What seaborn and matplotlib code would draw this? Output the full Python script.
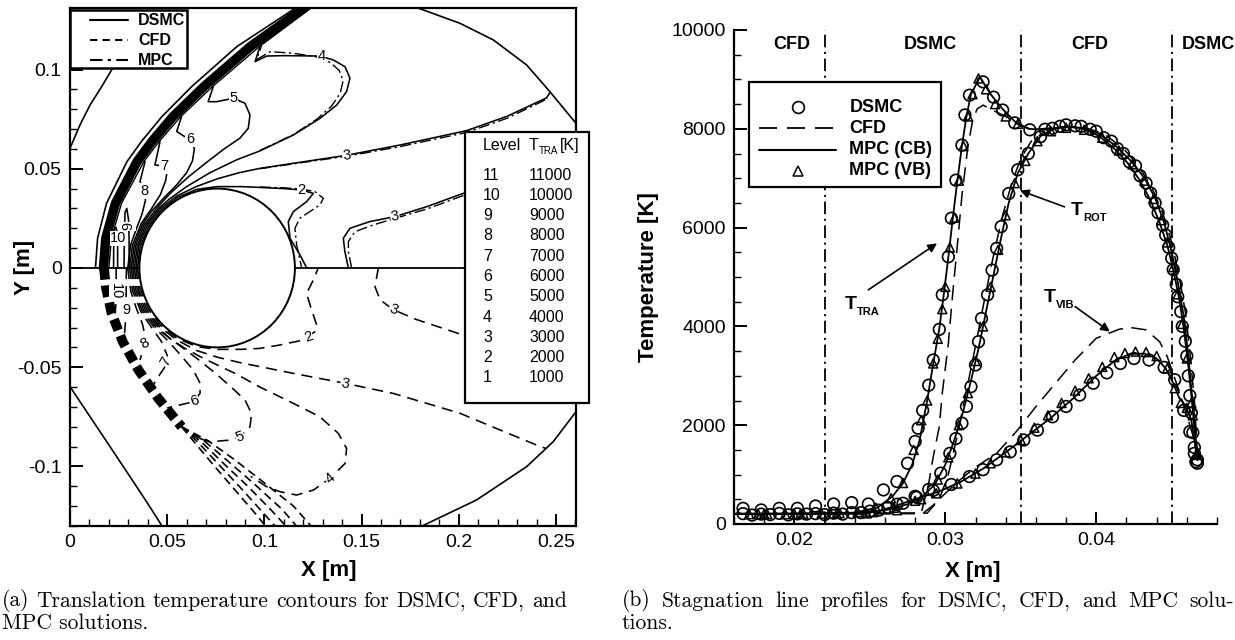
import matplotlib
matplotlib.use("Agg")
import pandas as pd
import matplotlib.pyplot as plt
from matplotlib.patches import Circle, Rectangle
from matplotlib.ticker import MultipleLocator, FuncFormatter
import seaborn as sns

# ---------------------------------------------------------------------------
# (a) translational temperature contours around the cylinder
# ---------------------------------------------------------------------------
cyl_center = (0.0757, 0.0)
cyl_radius = 0.040

symmetry_left = [(0.0, 0.0), (0.0357, 0.0)]
symmetry_right = [(0.1157, 0.0), (0.2603, 0.0)]

boundary_upper_left = [(0.0, 0.0603), (0.0051, 0.0720), (0.0103, 0.0821), (0.0163, 0.0914),
                       (0.0214, 0.0998), (0.0300, 0.1120)]
boundary_upper_right = [(0.1790, 0.1310), (0.2006, 0.1233), (0.2178, 0.1149), (0.2349, 0.1023),
                        (0.2469, 0.0888), (0.2603, 0.0729)]
boundary_lower_left = [(0.0, -0.0598), (0.0103, -0.0749), (0.0206, -0.0900), (0.0309, -0.1052),
                       (0.0394, -0.1178), (0.0480, -0.1310)]
boundary_lower_right = [(0.1790, -0.1310), (0.2091, -0.1169), (0.2349, -0.1001), (0.2486, -0.0875),
                        (0.2603, -0.0724)]

# shock layer (DSMC / MPC, upper half)
shock_y_up = [0.0, 0.015, 0.0326, 0.0536, 0.0637, 0.0763, 0.0914, 0.1116, 0.131]
shock_outer_x_up = [0.0131, 0.0142, 0.0188, 0.0293, 0.0367, 0.0473, 0.0626, 0.0859, 0.1160]
shock_core_x_up = [0.0172, 0.0184, 0.0234, 0.0345, 0.0421, 0.0530, 0.0689, 0.0928, 0.1205]
shock_inner_x_up = [0.0200, 0.0213, 0.0265, 0.0380, 0.0458, 0.0570, 0.0733, 0.0975, 0.1240]

# shock layer (CFD, lower half)
shock_y_low = [0.0, -0.010, -0.0228, -0.0371, -0.0514, -0.0657, -0.0800]
shock_core_x_low = [0.0175, 0.0185, 0.0214, 0.0271, 0.0352, 0.0454, 0.0574]
cfd_shock_fan1 = [(0.0574, -0.0800), (0.0650, -0.0890), (0.0740, -0.0995), (0.0850, -0.1120),
                  (0.0960, -0.1245), (0.1005, -0.1300)]
cfd_shock_fan2 = [(0.0574, -0.0800), (0.0665, -0.0885), (0.0765, -0.0990), (0.0880, -0.1110),
                  (0.0995, -0.1235), (0.1055, -0.1300)]
cfd_shock_fan3 = [(0.0574, -0.0800), (0.0680, -0.0880), (0.0790, -0.0985), (0.0915, -0.1100),
                  (0.1040, -0.1225), (0.1110, -0.1300)]
cfd_shock_fan4 = [(0.0574, -0.0800), (0.0695, -0.0875), (0.0815, -0.0975), (0.0950, -0.1090),
                  (0.1090, -0.1215), (0.1165, -0.1300)]
cfd_shock_fan5 = [(0.0574, -0.0800), (0.0710, -0.0870), (0.0845, -0.0965), (0.0990, -0.1075),
                  (0.1150, -0.1200), (0.1240, -0.1300)]

# DSMC iso-lines (upper half)
dsmc_lvl2 = [(0.0347, 0.0), (0.0361, 0.0106), (0.0402, 0.0205), (0.0467, 0.0290), (0.0552, 0.0355),
             (0.0651, 0.0396), (0.0757, 0.0410), (0.0880, 0.0410), (0.0977, 0.0406), (0.1100, 0.0400),
             (0.1192, 0.0393), (0.1252, 0.0376), (0.1217, 0.0334), (0.1149, 0.0284), (0.1123, 0.0234),
             (0.1132, 0.0150), (0.1183, 0.0066), (0.1218, 0.0)]
dsmc_lvl3 = [(0.0339, 0.0), (0.0353, 0.0108), (0.0395, 0.0209), (0.0461, 0.0296), (0.0548, 0.0362),
             (0.0649, 0.0410), (0.0760, 0.0450), (0.0870, 0.0480), (0.0977, 0.0502), (0.1200, 0.0535),
             (0.1423, 0.0568), (0.1700, 0.0620), (0.2040, 0.0692), (0.2250, 0.0765), (0.2451, 0.0857),
             (0.2468, 0.0882)]
dsmc_lvl3_wake = [(0.1432, 0.0), (0.1414, 0.0083), (0.1406, 0.0150), (0.1440, 0.0200), (0.1543, 0.0234),
                  (0.1672, 0.0259), (0.1835, 0.0309), (0.2023, 0.0376), (0.2200, 0.0430)]
dsmc_lvl4 = [(0.0331, 0.0), (0.0346, 0.0110), (0.0388, 0.0213), (0.0456, 0.0301), (0.0513, 0.0349),
             (0.0600, 0.0410), (0.0720, 0.0480), (0.0857, 0.0545), (0.0977, 0.0590), (0.1149, 0.0670),
             (0.1286, 0.0754), (0.1372, 0.0821), (0.1423, 0.0889), (0.1440, 0.0956), (0.1415, 0.1014),
             (0.1355, 0.1048), (0.1286, 0.1068), (0.1100, 0.1070), (0.1012, 0.1068), (0.0952, 0.1040),
             (0.0977, 0.1116)]
dsmc_lvl5 = [(0.0323, 0.0), (0.0338, 0.0112), (0.0381, 0.0217), (0.0450, 0.0307), (0.0520, 0.0380),
             (0.0610, 0.0460), (0.0700, 0.0530), (0.0790, 0.0598), (0.0874, 0.0654), (0.0917, 0.0704),
             (0.0926, 0.0771), (0.0900, 0.0830), (0.0840, 0.0855), (0.0754, 0.0838), (0.0711, 0.0838),
             (0.0737, 0.0914)]
dsmc_lvl6 = [(0.0315, 0.0), (0.0330, 0.0114), (0.0374, 0.0221), (0.0418, 0.0284), (0.0480, 0.0350),
             (0.0550, 0.0420), (0.0600, 0.0480), (0.0630, 0.0540), (0.0640, 0.0600), (0.0620, 0.0645),
             (0.0580, 0.0668), (0.0549, 0.0688), (0.0574, 0.0763)]
dsmc_lvl7 = [(0.0307, 0.0), (0.0322, 0.0116), (0.0367, 0.0225), (0.0420, 0.0300), (0.0465, 0.0370),
             (0.0492, 0.0440), (0.0500, 0.0490), (0.0475, 0.0515), (0.0437, 0.0519), (0.0463, 0.0637)]
dsmc_lvl8 = [(0.0297, 0.0), (0.0313, 0.0119), (0.0340, 0.0194), (0.0370, 0.0270), (0.0388, 0.0340),
             (0.0385, 0.0390), (0.0360, 0.0435), (0.0386, 0.0536)]
dsmc_lvl9 = [(0.0278, 0.0), (0.0279, 0.0150), (0.0283, 0.0280), (0.0292, 0.0300), (0.0301, 0.0245),
             (0.0304, 0.0150), (0.0304, 0.0)]
dsmc_lvl10 = [(0.0224, 0.0), (0.0225, 0.0120), (0.0229, 0.0195), (0.0236, 0.0205), (0.0243, 0.0180),
              (0.0245, 0.0100), (0.0245, 0.0)]

# MPC iso-lines where they separate from DSMC
mpc_lvl2 = [(0.0977, 0.0408), (0.1100, 0.0404), (0.1192, 0.0398), (0.1260, 0.0385), (0.1303, 0.0351),
            (0.1286, 0.0318), (0.1235, 0.0285), (0.1183, 0.0251), (0.1157, 0.0200), (0.1166, 0.0116),
            (0.1192, 0.0)]
mpc_lvl3 = [(0.0977, 0.0500), (0.1200, 0.0532), (0.1423, 0.0563), (0.1700, 0.0612), (0.2040, 0.0683),
            (0.2250, 0.0755), (0.2451, 0.0850)]
mpc_lvl3_wake = [(0.1449, 0.0), (0.1432, 0.0083), (0.1432, 0.0133), (0.1466, 0.0183), (0.1560, 0.0217),
                 (0.1672, 0.0250), (0.1835, 0.0297), (0.2023, 0.0365), (0.2200, 0.0420)]
mpc_lvl4 = [(0.0977, 0.0592), (0.1149, 0.0672), (0.1270, 0.0750), (0.1345, 0.0815), (0.1390, 0.0880),
            (0.1405, 0.0945), (0.1385, 0.0995), (0.1340, 0.1035), (0.1280, 0.1062), (0.1150, 0.1082),
            (0.1030, 0.1090), (0.0960, 0.1050), (0.0985, 0.1118)]

# CFD iso-lines (lower half)
cfd_lvl2 = [(0.0347, 0.0), (0.0361, -0.0106), (0.0402, -0.0205), (0.0467, -0.0290), (0.0552, -0.0355),
            (0.0651, -0.0396), (0.0757, -0.0410), (0.0880, -0.0410), (0.0977, -0.0405), (0.1080, -0.0388),
            (0.1200, -0.0363), (0.1260, -0.0321), (0.1269, -0.0287), (0.1243, -0.0212), (0.1217, -0.0128),
            (0.1252, -0.0060), (0.1277, 0.0)]
cfd_lvl3 = [(0.0339, 0.0), (0.0353, -0.0108), (0.0395, -0.0209), (0.0461, -0.0296), (0.0548, -0.0362),
            (0.0649, -0.0415), (0.0760, -0.0450), (0.0880, -0.0478), (0.0977, -0.0497), (0.1149, -0.0531),
            (0.1415, -0.0581), (0.1663, -0.0632), (0.2006, -0.0732), (0.2212, -0.0816), (0.2400, -0.0892),
            (0.2450, -0.0910)]
cfd_lvl3_wake = [(0.1586, 0.0), (0.1569, -0.0094), (0.1595, -0.0160), (0.1663, -0.0210), (0.1783, -0.0260),
                 (0.2023, -0.0338), (0.2200, -0.0400)]
cfd_lvl4 = [(0.0331, 0.0), (0.0346, -0.0110), (0.0388, -0.0213), (0.0456, -0.0301), (0.0513, -0.0355),
            (0.0600, -0.0410), (0.0686, -0.0455), (0.0857, -0.0535), (0.0977, -0.0600), (0.1149, -0.0682),
            (0.1286, -0.0750), (0.1380, -0.0833), (0.1423, -0.0909), (0.1415, -0.0985), (0.1337, -0.1060),
            (0.1252, -0.1119), (0.1166, -0.1144), (0.1080, -0.1127), (0.1012, -0.1102), (0.0930, -0.1050)]
cfd_lvl5 = [(0.0323, 0.0), (0.0338, -0.0112), (0.0381, -0.0217), (0.0450, -0.0307), (0.0549, -0.0380),
            (0.0652, -0.0455), (0.0754, -0.0535), (0.0840, -0.0610), (0.0900, -0.0665), (0.0934, -0.0733),
            (0.0926, -0.0800), (0.0874, -0.0850), (0.0823, -0.0867), (0.0720, -0.0876), (0.0640, -0.0850)]
cfd_lvl6 = [(0.0315, 0.0), (0.0330, -0.0114), (0.0374, -0.0221), (0.0430, -0.0295), (0.0497, -0.0360),
            (0.0566, -0.0435), (0.0634, -0.0514), (0.0669, -0.0580), (0.0669, -0.0632), (0.0634, -0.0674),
            (0.0566, -0.0690), (0.0500, -0.0705)]
cfd_lvl7 = [(0.0307, 0.0), (0.0322, -0.0116), (0.0367, -0.0225), (0.0420, -0.0300), (0.0470, -0.0370),
            (0.0500, -0.0440), (0.0489, -0.0497), (0.0454, -0.0548), (0.0425, -0.0595)]
cfd_lvl8 = [(0.0297, 0.0), (0.0313, -0.0119), (0.0340, -0.0200), (0.0372, -0.0280), (0.0388, -0.0350),
            (0.0375, -0.0413), (0.0360, -0.0464)]
cfd_lvl9 = [(0.0290, 0.0), (0.0289, -0.0120), (0.0287, -0.0250), (0.0280, -0.0340)]
cfd_lvl10 = [(0.0237, 0.0), (0.0238, -0.0100), (0.0236, -0.0180), (0.0232, -0.0230)]

# in-line level labels: (text, x, y, rotation)
level_labels = [("4", 0.1295, 0.1068, 0), ("5", 0.0840, 0.0855, 0), ("6", 0.0618, 0.0650, 0),
                ("7", 0.0484, 0.0512, 0), ("8", 0.0383, 0.0388, 0), ("9", 0.0302, 0.0210, 90),
                ("10", 0.0249, 0.0150, 0), ("3", 0.1423, 0.0568, 8), ("3", 0.1672, 0.0259, 10),
                ("2", 0.1192, 0.0393, 0),
                ("10", 0.0238, -0.0115, -90), ("9", 0.0289, -0.0212, 0), ("8", 0.0384, -0.0380, 30),
                ("7", 0.0495, -0.0470, 60), ("6", 0.0640, -0.0668, 20), ("5", 0.0874, -0.0850, 20),
                ("4", 0.1337, -0.1060, 40), ("3", 0.1415, -0.0581, -10), ("3", 0.1663, -0.0210, -20),
                ("2", 0.1226, -0.0345, 20)]

levels = [11, 10, 9, 8, 7, 6, 5, 4, 3, 2, 1]
level_temps = [11000, 10000, 9000, 8000, 7000, 6000, 5000, 4000, 3000, 2000, 1000]

# ---------------------------------------------------------------------------
# (b) stagnation line temperature profiles
# ---------------------------------------------------------------------------
zone_edges = [0.022, 0.035, 0.045]
zone_names = ["CFD", "DSMC", "CFD", "DSMC"]
zone_label_x = [0.0198, 0.0290, 0.0396, 0.0474]

dsmc_tra_x = [0.0166, 0.0178, 0.0190, 0.0202, 0.0214, 0.0226, 0.0238, 0.0249, 0.0259, 0.0268,
              0.0275, 0.0280, 0.0282, 0.0285, 0.0289, 0.0292, 0.0296, 0.0298, 0.0302, 0.0304,
              0.0307, 0.0311, 0.0313, 0.0316, 0.0325, 0.0332, 0.0338, 0.0346, 0.0356, 0.0366,
              0.0376, 0.0386, 0.0396, 0.0405, 0.0414, 0.0422, 0.0429, 0.0436, 0.0441, 0.0446,
              0.0450, 0.0453, 0.0456, 0.0459, 0.0461, 0.0463, 0.0465, 0.0467]
dsmc_tra_T = [317, 284, 317, 317, 364, 405, 432, 405, 690, 860,
              1230, 1670, 1940, 2300, 2810, 3320, 3940, 4640, 5410, 6190,
              6960, 7670, 8280, 8680, 8950, 8640, 8380, 8120, 7980, 7990,
              8050, 8060, 7990, 7820, 7600, 7330, 7050, 6700, 6300, 5850,
              5380, 4850, 4300, 3700, 3000, 2250, 1550, 1300]

dsmc_rot_x = [0.0166, 0.0178, 0.0190, 0.0202, 0.0214, 0.0226, 0.0238, 0.0250, 0.0262, 0.0272,
              0.0281, 0.0289, 0.0297, 0.0303, 0.0307, 0.0311, 0.0314, 0.0317, 0.0320, 0.0322,
              0.0324, 0.0328, 0.0331, 0.0334, 0.0337, 0.0342, 0.0348, 0.0355, 0.0363, 0.0371,
              0.0380, 0.0390, 0.0400, 0.0410, 0.0418, 0.0426, 0.0433, 0.0439, 0.0444, 0.0448,
              0.0451, 0.0454, 0.0457, 0.0460, 0.0462, 0.0464, 0.0466]
dsmc_rot_T = [210, 200, 215, 205, 210, 220, 230, 260, 330, 420,
              540, 700, 1030, 1430, 1730, 2040, 2380, 2780, 3220, 3690,
              4160, 4640, 5140, 5580, 6020, 6690, 7170, 7500, 7840, 8010,
              8080, 8050, 7950, 7750, 7500, 7250, 6900, 6500, 6050, 5600,
              5150, 4600, 4000, 3400, 2600, 1850, 1260]

dsmc_vib_x = [0.0172, 0.0184, 0.0196, 0.0208, 0.0220, 0.0232, 0.0244, 0.0256, 0.0268, 0.0280,
              0.0292, 0.0304, 0.0316, 0.0325, 0.0334, 0.0343, 0.0352, 0.0361, 0.0371, 0.0380,
              0.0389, 0.0398, 0.0407, 0.0416, 0.0425, 0.0435, 0.0445, 0.0452, 0.0458, 0.0462,
              0.0465, 0.0467]
dsmc_vib_T = [180, 190, 185, 200, 190, 200, 230, 280, 400, 560,
              680, 800, 960, 1100, 1300, 1460, 1700, 1900, 2170, 2380,
              2610, 2850, 3060, 3250, 3350, 3320, 3170, 2920, 2300, 1870,
              1430, 1230]

cfd_tra_x = [0.0160, 0.0284, 0.0289, 0.0292, 0.0296, 0.0298, 0.0302, 0.0305, 0.0308, 0.0311,
             0.0315, 0.0318, 0.0321, 0.0325, 0.0331, 0.0340, 0.0350, 0.0360, 0.0375, 0.0390,
             0.0405, 0.0418, 0.0428, 0.0437, 0.0444, 0.0450, 0.0455, 0.0459, 0.0462, 0.0465,
             0.0467]
cfd_tra_T = [200, 220, 820, 1360, 1970, 2650, 3650, 4700, 5650, 6650,
             7650, 8150, 8400, 8480, 8380, 8250, 8050, 7990, 8030, 8050,
             7900, 7600, 7250, 6800, 6300, 5700, 5000, 4300, 3500, 2500,
             1450]
cfd_rot_x = [0.0160, 0.0288, 0.0296, 0.0302, 0.0308, 0.0314, 0.0320, 0.0326, 0.0332, 0.0338,
             0.0344, 0.0350, 0.0357, 0.0366]
cfd_rot_T = [200, 220, 500, 1000, 1800, 2700, 3600, 4550, 5450, 6250,
             6900, 7400, 7750, 7950]
cfd_vib_x = [0.0160, 0.0285, 0.0292, 0.0300, 0.0310, 0.0320, 0.0334, 0.0347, 0.0360, 0.0373,
             0.0386, 0.0400, 0.0415, 0.0422, 0.0433, 0.0442, 0.0447, 0.0452, 0.0456, 0.0460,
             0.0464, 0.0467]
cfd_vib_T = [200, 210, 380, 620, 900, 1150, 1430, 1870, 2375, 2850,
             3320, 3760, 3940, 3980, 3930, 3690, 3390, 2950, 2600, 2200,
             1800, 1400]

cb_tra_x = [0.0160, 0.0200, 0.0240, 0.0255, 0.0265, 0.0272, 0.0278, 0.0283, 0.0288, 0.0292,
            0.0296, 0.0299, 0.0302, 0.0305, 0.0308, 0.0311, 0.0314, 0.0317, 0.0323, 0.0330,
            0.0338, 0.0346, 0.0355, 0.0365, 0.0378, 0.0390, 0.0402, 0.0413, 0.0423, 0.0432,
            0.0439, 0.0445, 0.0450, 0.0454, 0.0458, 0.0461, 0.0464, 0.0467]
cb_tra_T = [210, 210, 230, 330, 560, 830, 1200, 1700, 2500, 3250,
            3950, 4650, 5400, 6200, 6950, 7650, 8250, 8700, 9050, 8700,
            8400, 8150, 8000, 7980, 8040, 8020, 7900, 7650, 7350, 7000,
            6600, 6100, 5500, 4900, 4200, 3400, 2400, 1300]
cb_rot_x = [0.0160, 0.0240, 0.0262, 0.0275, 0.0285, 0.0293, 0.0300, 0.0306, 0.0312, 0.0317,
            0.0322, 0.0327, 0.0332, 0.0337, 0.0342, 0.0348, 0.0355, 0.0363, 0.0372, 0.0382,
            0.0392, 0.0402, 0.0412, 0.0421, 0.0429, 0.0436, 0.0442, 0.0447, 0.0451, 0.0455,
            0.0458, 0.0461, 0.0464, 0.0467]
cb_rot_T = [205, 215, 290, 400, 560, 800, 1200, 1700, 2300, 2900,
            3550, 4300, 5050, 5800, 6500, 7100, 7500, 7850, 8000, 8050,
            8000, 7850, 7600, 7300, 6950, 6550, 6100, 5650, 5150, 4550,
            3950, 3200, 2300, 1300]
cb_vib_x = [0.0160, 0.0240, 0.0255, 0.0268, 0.0282, 0.0296, 0.0310, 0.0325, 0.0340, 0.0355,
            0.0370, 0.0385, 0.0400, 0.0412, 0.0422, 0.0432, 0.0440, 0.0446, 0.0451, 0.0455,
            0.0459, 0.0463, 0.0467]
cb_vib_T = [200, 210, 250, 380, 520, 660, 850, 1120, 1450, 1800,
            2150, 2550, 3000, 3300, 3440, 3450, 3350, 3150, 2850, 2550,
            2400, 2100, 1300]

vb_tra_x = [0.0170, 0.0182, 0.0194, 0.0206, 0.0218, 0.0230, 0.0242, 0.0254, 0.0264, 0.0272,
            0.0279, 0.0284, 0.0288, 0.0292, 0.0295, 0.0298, 0.0300, 0.0303, 0.0306, 0.0309,
            0.0312, 0.0315, 0.0318, 0.0322, 0.0327, 0.0333, 0.0340, 0.0348]
vb_tra_T = [200, 200, 200, 210, 210, 220, 240, 330, 520, 830,
            1500, 2100, 2500, 3250, 3750, 4350, 4800, 5600, 6200, 6950,
            7650, 8250, 8700, 9020, 8800, 8500, 8250, 8100]
vb_rot_x = [0.0176, 0.0200, 0.0224, 0.0248, 0.0268, 0.0284, 0.0295, 0.0302, 0.0309, 0.0315,
            0.0320, 0.0325, 0.0330, 0.0335, 0.0340, 0.0346, 0.0353, 0.0361, 0.0370, 0.0380,
            0.0392, 0.0404, 0.0415, 0.0424, 0.0432, 0.0438, 0.0443, 0.0447, 0.0451, 0.0454,
            0.0457, 0.0460, 0.0463, 0.0466]
vb_rot_T = [200, 200, 205, 215, 280, 500, 900, 1350, 2000, 2650,
            3300, 4000, 4800, 5550, 6250, 6900, 7350, 7750, 7950, 8020,
            7980, 7820, 7560, 7280, 6950, 6580, 6150, 5700, 5200, 4650,
            4050, 3350, 2450, 1400]
vb_vib_x = [0.0180, 0.0204, 0.0228, 0.0252, 0.0266, 0.0280, 0.0294, 0.0308, 0.0320, 0.0330,
            0.0340, 0.0350, 0.0359, 0.0368, 0.0377, 0.0386, 0.0395, 0.0404, 0.0412, 0.0419,
            0.0426, 0.0433, 0.0440, 0.0447, 0.0452, 0.0456, 0.0460, 0.0464, 0.0467]
vb_vib_T = [200, 200, 205, 240, 330, 470, 620, 820, 1020, 1230,
            1450, 1700, 1950, 2200, 2450, 2700, 2950, 3180, 3380, 3460,
            3490, 3480, 3400, 3150, 2750, 2450, 2350, 2200, 1400]

# annotation: (main, subscript, text x, text T, arrow tail, arrow head)
profile_tags = [("T", "TRA", 0.02335, 4450, (0.0249, 4740), (0.02945, 5680)),
                ("T", "ROT", 0.03830, 6350, (0.03790, 6420), (0.03495, 6750)),
                ("T", "VIB", 0.03650, 4590, (0.03860, 4400), (0.04090, 3895))]

caption_a = ["(a) Translation temperature contours for DSMC, CFD, and", "MPC solutions."]
caption_b = ["(b) Stagnation line profiles for DSMC, CFD, and MPC solu-", "tions."]

# ---------------------------------------------------------------------------
sns.set_theme(style="ticks")
plt.rcParams["font.family"] = ["Liberation Sans", "DejaVu Sans"]
plt.rcParams["axes.edgecolor"] = "black"
plt.rcParams["xtick.color"] = "black"
plt.rcParams["ytick.color"] = "black"
plt.rcParams["text.color"] = "black"
plt.rcParams["axes.labelcolor"] = "black"

SOLID = "-"
DASH = (0, (7, 4.3))
DASHDOT = (0, (8, 2.5, 1.6, 2.5))

fig = plt.figure(figsize=(12.35, 6.4), dpi=100)
fig.patch.set_facecolor("white")
axL = fig.add_axes([70 / 1235, 114 / 640, 506 / 1235, 518 / 640])
axR = fig.add_axes([734 / 1235, 116 / 640, 483 / 1235, 494 / 640])


def draw_path(ax, pts, ls=SOLID, lw=1.1, z=2):
    df = pd.DataFrame(pts, columns=["x", "y"])
    sns.lineplot(data=df, x="x", y="y", sort=False, estimator=None, ax=ax,
                 color="black", linestyle=ls, linewidth=lw, zorder=z)


# ----------------------------- left panel ---------------------------------
for seg in (symmetry_left, symmetry_right):
    draw_path(axL, seg, lw=1.3)
for seg in (boundary_upper_left, boundary_upper_right, boundary_lower_left, boundary_lower_right):
    draw_path(axL, seg, lw=1.2)

axL.add_patch(Circle(cyl_center, cyl_radius, fill=False, ec="black", lw=1.4, zorder=3))

draw_path(axL, list(zip(shock_outer_x_up, shock_y_up)), lw=1.2)
draw_path(axL, list(zip(shock_core_x_up, shock_y_up)), lw=6.8)
draw_path(axL, list(zip(shock_inner_x_up, shock_y_up)), lw=1.0)

draw_path(axL, list(zip(shock_core_x_low, shock_y_low)), ls=(0, (1.2, 0.6)), lw=7.0)
for fan in (cfd_shock_fan1, cfd_shock_fan2, cfd_shock_fan3, cfd_shock_fan4, cfd_shock_fan5):
    draw_path(axL, fan, ls=(0, (5, 3)), lw=1.2)

for path in (dsmc_lvl2, dsmc_lvl3, dsmc_lvl3_wake, dsmc_lvl4, dsmc_lvl5, dsmc_lvl6,
             dsmc_lvl7, dsmc_lvl8, dsmc_lvl9, dsmc_lvl10):
    draw_path(axL, path, lw=1.15)
for path in (mpc_lvl2, mpc_lvl3, mpc_lvl3_wake, mpc_lvl4):
    draw_path(axL, path, ls=DASHDOT, lw=1.0)
for path in (cfd_lvl2, cfd_lvl3, cfd_lvl3_wake, cfd_lvl4, cfd_lvl5, cfd_lvl6,
             cfd_lvl7, cfd_lvl8, cfd_lvl9, cfd_lvl10):
    draw_path(axL, path, ls=DASH, lw=1.15)

for txt, x, y, rot in level_labels:
    axL.text(x, y, txt, fontsize=10.5, ha="center", va="center", rotation=rot, zorder=5,
             bbox=dict(fc="white", ec="none", pad=0.4))

axL.set_xlim(0, 0.2603)
axL.set_ylim(-0.130, 0.131)
axL.xaxis.set_major_locator(MultipleLocator(0.05))
axL.xaxis.set_minor_locator(MultipleLocator(0.01))
axL.yaxis.set_major_locator(MultipleLocator(0.05))
axL.yaxis.set_minor_locator(MultipleLocator(0.01))
fmt = FuncFormatter(lambda v, p: "%g" % round(v, 4))
axL.xaxis.set_major_formatter(fmt)
axL.yaxis.set_major_formatter(fmt)
axL.tick_params(which="both", direction="in", top=False, right=False, labelsize=14)
axL.tick_params(which="major", length=9, width=1.4, pad=6)
axL.tick_params(which="minor", length=5, width=1.0)
for sp in axL.spines.values():
    sp.set_linewidth(1.6)
    sp.set_visible(True)
axL.set_xlabel("X [m]", fontsize=16, fontweight="bold")
axL.set_ylabel("Y [m]", fontsize=16, fontweight="bold")
axL.xaxis.set_label_coords(0.512, -0.066)
axL.yaxis.set_label_coords(-0.070, 0.5)

# line-style key (upper left)
key_styles = [("DSMC", SOLID), ("CFD", (0, (3.5, 2.5))), ("MPC", (0, (6, 2.5, 1.6, 2.5)))]
axL.add_patch(Rectangle((0.0, 0.8836), 0.2306, 0.1125, transform=axL.transAxes,
                        fc="white", ec="black", lw=1.8, zorder=8))
for i, (lab, ls) in enumerate(key_styles):
    yy = 0.9768 - i * 0.0386
    axL.plot([0.0395, 0.1146], [yy, yy], transform=axL.transAxes, color="black",
             ls=ls, lw=1.5, zorder=9)
    axL.text(0.1344, yy, lab, transform=axL.transAxes, fontsize=11.5, fontweight="bold",
             va="center", ha="left", zorder=9)

# level table (box runs a little past the right frame)
axL.add_patch(Rectangle((0.7806, 0.2369), 0.2450, 0.5243, transform=axL.transAxes,
                        fc="white", ec="black", lw=1.6, zorder=8, clip_on=False))
axL.text(0.8162, 0.7336, "Level", transform=axL.transAxes, fontsize=11.5,
         va="center", ha="left", zorder=9)
axL.text(0.9071, 0.7336, "T", transform=axL.transAxes, fontsize=11.5,
         va="center", ha="left", zorder=9)
axL.annotate("TRA", xy=(0.9071, 0.7336), xycoords="axes fraction", xytext=(7.2, -3.5),
             textcoords="offset points", fontsize=7, va="center", ha="left", zorder=9,
             annotation_clip=False)
axL.annotate("[K]", xy=(0.9071, 0.7336), xycoords="axes fraction", xytext=(22.5, 0),
             textcoords="offset points", fontsize=11.5, va="center", ha="left", zorder=9,
             annotation_clip=False)
for k, (lv, tv) in enumerate(zip(levels, level_temps)):
    yy = (526 - (175 + 20.3 * k)) / 518
    axL.text(0.8162, yy, str(lv), transform=axL.transAxes, fontsize=11.5,
             va="center", ha="left", zorder=9)
    axL.text(0.9071, yy, str(tv), transform=axL.transAxes, fontsize=11.5,
             va="center", ha="left", zorder=9)

# ----------------------------- right panel --------------------------------
for xe in zone_edges:
    axR.axvline(xe, color="black", lw=1.3, ls=(0, (7, 2.5, 1.2, 2.5)), zorder=1)
for name, xl in zip(zone_names, zone_label_x):
    axR.text(xl, 9700, name, fontsize=13, fontweight="bold", ha="center", va="center",
             clip_on=False)

CFD_LS = (0, (10, 5.5))
for xs, ts in ((cfd_tra_x, cfd_tra_T), (cfd_rot_x, cfd_rot_T), (cfd_vib_x, cfd_vib_T)):
    sns.lineplot(x=xs, y=ts, ax=axR, sort=False, estimator=None, color="black",
                 linestyle=CFD_LS, linewidth=1.1, zorder=2)
for xs, ts in ((cb_tra_x, cb_tra_T), (cb_rot_x, cb_rot_T), (cb_vib_x, cb_vib_T)):
    sns.lineplot(x=xs, y=ts, ax=axR, sort=False, estimator=None, color="black",
                 linestyle="-", linewidth=1.3, zorder=3)
for xs, ts in ((vb_tra_x, vb_tra_T), (vb_rot_x, vb_rot_T), (vb_vib_x, vb_vib_T)):
    sns.scatterplot(x=xs, y=ts, ax=axR, marker="^", s=42, facecolor="none",
                    edgecolor="black", linewidth=1.1, zorder=4)
for xs, ts in ((dsmc_tra_x, dsmc_tra_T), (dsmc_rot_x, dsmc_rot_T), (dsmc_vib_x, dsmc_vib_T)):
    sns.scatterplot(x=xs, y=ts, ax=axR, marker="o", s=70, facecolor="none",
                    edgecolor="black", linewidth=1.2, zorder=5)

for main, sub, tx, tT, tail, head in profile_tags:
    axR.text(tx, tT, main, fontsize=14, fontweight="bold", ha="left", va="center", zorder=7)
    axR.annotate(sub, xy=(tx, tT), xytext=(8.8, -5.5), textcoords="offset points",
                 fontsize=8, fontweight="bold", ha="left", va="center", zorder=7)
    axR.annotate("", xy=head, xytext=tail,
                 arrowprops=dict(arrowstyle="-|>", color="black", lw=1.2,
                                 mutation_scale=13, shrinkA=0, shrinkB=0), zorder=7)

axR.set_xlim(0.016, 0.048)
axR.set_ylim(0, 10000)
axR.xaxis.set_major_locator(MultipleLocator(0.01))
axR.xaxis.set_minor_locator(MultipleLocator(0.002))
axR.yaxis.set_major_locator(MultipleLocator(2000))
axR.yaxis.set_minor_locator(MultipleLocator(500))
axR.xaxis.set_major_formatter(FuncFormatter(lambda v, p: "%g" % round(v, 4)))
axR.yaxis.set_major_formatter(FuncFormatter(lambda v, p: "%d" % v))
axR.tick_params(which="both", direction="in", top=False, right=False, labelsize=14)
axR.tick_params(which="major", length=9, width=1.4, pad=6)
axR.tick_params(which="minor", length=5, width=1.0)
axR.spines["top"].set_visible(False)
axR.spines["right"].set_visible(False)
axR.spines["left"].set_linewidth(1.6)
axR.spines["bottom"].set_linewidth(1.6)
axR.set_xlabel("X [m]", fontsize=16, fontweight="bold")
axR.set_ylabel("Temperature [K]", fontsize=16, fontweight="bold")
axR.xaxis.set_label_coords(0.495, -0.074)
axR.yaxis.set_label_coords(-0.155, 0.5)

# series key
axR.add_patch(Rectangle((0.0319, 0.6816), 0.3963, 0.2137, transform=axR.transAxes,
                        fc="white", ec="black", lw=1.6, zorder=8))
key_rows = [("DSMC", "o"), ("CFD", "--"), ("MPC (CB)", "-"), ("MPC (VB)", "^")]
key_rows_y = [0.8435, 0.8010, 0.7571, 0.7152]
for (lab, kind), yy in zip(key_rows, key_rows_y):
    if kind == "o":
        axR.plot([0.1333], [yy], transform=axR.transAxes, marker="o", ms=8.5, mfc="none",
                 mec="black", mew=1.2, ls="none", zorder=9)
    elif kind == "^":
        axR.plot([0.1333], [yy], transform=axR.transAxes, marker="^", ms=7, mfc="none",
                 mec="black", mew=1.1, ls="none", zorder=9)
    elif kind == "--":
        axR.plot([0.0518, 0.2106], [yy, yy], transform=axR.transAxes, color="black",
                 ls=CFD_LS, lw=1.3, zorder=9)
    else:
        axR.plot([0.0518, 0.2106], [yy, yy], transform=axR.transAxes, color="black",
                 ls="-", lw=1.5, zorder=9)
    axR.text(0.2389, yy, lab, transform=axR.transAxes, fontsize=13, fontweight="bold",
             va="center", ha="left", zorder=9)

# ----------------------------- captions -----------------------------------
cap_kw = dict(family=["cmr10", "DejaVu Serif"], fontsize=15.5, va="center", ha="left")
renderer = fig.canvas.get_renderer()


def justified_line(text, x0, x1, ypx):
    words = text.split(" ")
    items = [fig.text(0, 1 - ypx / 640, w, **cap_kw) for w in words]
    widths = [t.get_window_extent(renderer).width for t in items]
    gap = max((x1 - x0 - sum(widths)) / (len(words) - 1), 5.0)
    xc = x0
    for t, wd in zip(items, widths):
        t.set_x(xc / 1235)
        xc += wd + gap


justified_line(caption_a[0], 2, 567, 601)
fig.text(2 / 1235, 1 - 623 / 640, caption_a[1], **cap_kw)
justified_line(caption_b[0], 622, 1234, 601)
fig.text(622 / 1235, 1 - 623 / 640, caption_b[1], **cap_kw)

fig.savefig("out.png", dpi=100, facecolor="white")
